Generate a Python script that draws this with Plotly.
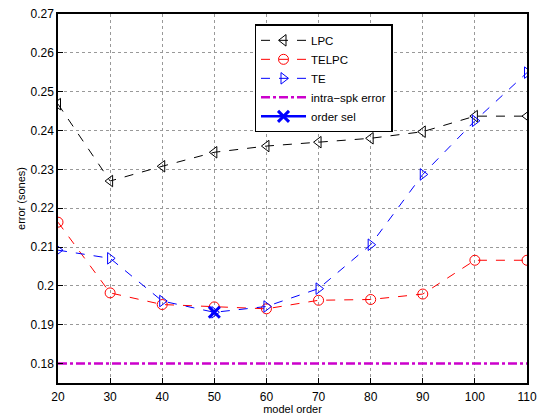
import plotly.graph_objects as go

orders = [20, 30, 40, 50, 60, 70, 80, 90, 100, 110]
lpc = [0.2468, 0.2270, 0.2308, 0.2344, 0.2360, 0.2370, 0.2380, 0.2397, 0.2437, 0.2437]
telpc = [0.2164, 0.1982, 0.1952, 0.1946, 0.1941, 0.1963, 0.1965, 0.1979, 0.2066, 0.2066]
te = [0.2092, 0.2071, 0.1961, 0.1932, 0.1947, 0.1993, 0.2106, 0.2287, 0.2425, 0.2549]
intra_spk = 0.18
order_sel_x = [50]
order_sel_y = [0.1932]

ytick_vals = [0.18, 0.19, 0.20, 0.21, 0.22, 0.23, 0.24, 0.25, 0.26, 0.27]
ytick_text = ["0.18", "0.19", "0.2", "0.21", "0.22", "0.23", "0.24", "0.25", "0.26", "0.27"]
xtick_vals = orders

font = "Liberation Sans, Arial, sans-serif"

fig = go.Figure()
fig.add_trace(go.Scatter(x=orders, y=lpc, name="LPC", mode="lines+markers",
                         line=dict(color="black", width=1, dash="dash"),
                         marker=dict(symbol="triangle-left-open", size=10, color="black", line=dict(width=1))))
fig.add_trace(go.Scatter(x=orders, y=telpc, name="TELPC", mode="lines+markers",
                         line=dict(color="red", width=1, dash="dash"),
                         marker=dict(symbol="circle-open", size=10, color="red", line=dict(width=1))))
fig.add_trace(go.Scatter(x=orders, y=te, name="TE", mode="lines+markers",
                         line=dict(color="blue", width=1, dash="dash"),
                         marker=dict(symbol="triangle-right-open", size=10, color="blue", line=dict(width=1))))
fig.add_trace(go.Scatter(x=[orders[0], orders[-1]], y=[intra_spk, intra_spk], name="intra\u2212spk error",
                         mode="lines", line=dict(color="#cc00cc", width=2.5, dash="dashdot")))
fig.add_trace(go.Scatter(x=order_sel_x, y=order_sel_y, name="order sel", mode="lines+markers",
                         line=dict(color="blue", width=2.5),
                         marker=dict(symbol="x-thin-open", size=11, color="blue", line=dict(width=3, color="blue"))))

axis_common = dict(showline=True, linecolor="black", linewidth=1.5, mirror=True,
                   ticks="inside", ticklen=5, tickcolor="black",
                   showgrid=True, gridcolor="#999999", griddash="dot", gridwidth=1,
                   zeroline=False, automargin=False,
                   tickfont=dict(family=font, size=12, color="black"))

fig.update_xaxes(range=[20, 110], tickvals=xtick_vals, **axis_common, ticklabelstandoff=2,
                 title=dict(text="model order", font=dict(family=font, size=11, color="black"), standoff=0))
fig.update_yaxes(range=[0.175, 0.27], tickvals=ytick_vals, ticktext=ytick_text, **axis_common,
                 title=dict(text="error (sones)", font=dict(family=font, size=11, color="black"), standoff=3))

fig.update_layout(
    width=539, height=415,
    margin=dict(l=58, r=12, t=14, b=32),
    paper_bgcolor="white", plot_bgcolor="white",
    font=dict(family=font, size=12, color="black"),
    legend=dict(x=0.419, y=0.972, xanchor="left", yanchor="top",
                bgcolor="white", bordercolor="black", borderwidth=1.5,
                font=dict(family=font, size=11.5, color="black"),
                itemwidth=45, tracegroupgap=0),
    showlegend=True,
)

fig.write_html("out.html")
